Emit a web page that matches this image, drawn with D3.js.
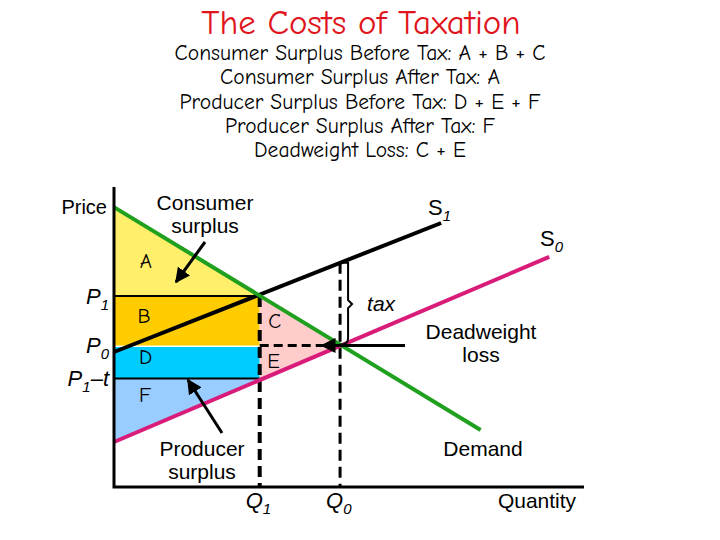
<!DOCTYPE html>
<html>
<head>
<meta charset="utf-8">
<script src="https://cdn.jsdelivr.net/npm/d3@7"></script>
<style>
  body { margin: 0; background: #fff; }
  svg { display: block; }
</style>
</head>
<body>
<div id="chart"></div>
<script>
// curves, as [quantity, price] end points
const demand  = [[0, 9.33], [7.8, 1.9]];
const supply0 = [[0, 1.5], [9.26, 7.67]];
const supply1 = [[0, 4.5], [6.96, 8.8]];

// key quantities and prices
const qLabels = ["Q1", "Q0"];
const qValues = [3.1, 4.81];
const pLabels = ["P1", "P0", "P1–t"];
const pValues = [6.37, 4.72, 3.62];

const subtitleLines = [
  "Consumer Surplus Before Tax: A + B + C",
  "Consumer Surplus After Tax: A",
  "Producer Surplus Before Tax: D + E + F",
  "Producer Surplus After Tax: F",
  "Deadweight Loss: C + E"
];

const W = 720, H = 540;
const comic = "'Comic Sans MS', 'Comic Neue', 'DejaVu Sans', sans-serif";
const arial = "'Liberation Sans', Arial, sans-serif";

const svg = d3.select("#chart").append("svg").attr("width", W).attr("height", H);

const x = d3.scaleLinear().domain([0, 10]).range([114, 584]);
const y = d3.scaleLinear().domain([0, 10]).range([487, 187]);

const lineAt = (seg, q) => {
  const [[q0, p0], [q1, p1]] = seg;
  return p0 + (p1 - p0) * (q - q0) / (q1 - q0);
};

const [Q1, Q0] = qValues;
const [P1, P0, P1t] = pValues;

// arrow marker
svg.append("defs").append("marker")
  .attr("id", "arr").attr("viewBox", "0 0 10 10").attr("refX", 9).attr("refY", 5)
  .attr("markerWidth", 5).attr("markerHeight", 5).attr("orient", "auto")
  .append("path").attr("d", "M0,0 L10,5 L0,10 z").attr("fill", "#000");

// titles
svg.append("text").attr("x", 361).attr("y", 34).attr("text-anchor", "middle")
  .style("font-family", comic).style("font-size", "35px").style("fill", "#E0141C")
  .text("The Costs of Taxation");
svg.selectAll(".sub").data(subtitleLines).enter().append("text").attr("class", "sub")
  .attr("x", 360).attr("y", (d, i) => 60 + i * 24.3).attr("text-anchor", "middle")
  .style("font-family", comic).style("font-size", "21.5px").style("fill", "#000")
  .text(d => d);

const poly = pts => "M" + pts.map(p => x(p[0]) + "," + y(p[1])).join("L") + "Z";

// surplus regions
const s0AtQ1 = lineAt(supply0, Q1);
const regions = [
  { pts: [[0, demand[0][1]], [0, P1], [Q1, P1]], fill: "#FFEF6A" },
  { pts: [[0, P1], [Q1, P1], [Q1, P0], [0, P0]], fill: "#FFCC00" },
  { pts: [[0, P0 - 0.05], [Q1, P0 - 0.05], [Q1, P1t], [0, P1t]], fill: "#00CCFF" },
  { pts: [[0, P1t], [Q1, P1t], [Q1, s0AtQ1], [0, supply0[0][1]]], fill: "#99CCFF" },
  { pts: [[Q1, P1], [Q0, P0], [Q1, P1t]], fill: "#FFCCCC" }
];
svg.selectAll(".region").data(regions).enter().append("path").attr("class", "region")
  .attr("d", d => poly(d.pts)).attr("fill", d => d.fill);

// region letters
const letters = [
  ["A", 0.55, 7.3], ["B", 0.5, 5.48], ["C", 3.28, 5.3],
  ["D", 0.53, 4.1], ["E", 3.26, 3.96], ["F", 0.53, 2.82]
];
svg.selectAll(".letter").data(letters).enter().append("text").attr("class", "letter")
  .attr("x", d => x(d[1])).attr("y", d => y(d[2]))
  .style("font-family", comic).style("font-size", "21px")
  .text(d => d[0]);

// price level lines
[P1, P1t].forEach(p => {
  svg.append("line").attr("x1", x(0)).attr("x2", x(Q1)).attr("y1", y(p)).attr("y2", y(p))
    .attr("stroke", "#000").attr("stroke-width", 2);
});

// dashed guides
svg.append("line").attr("x1", x(Q1)).attr("x2", x(Q1)).attr("y1", y(P1)).attr("y2", y(0))
  .attr("stroke", "#000").attr("stroke-width", 4).attr("stroke-dasharray", "11,6");
const s1AtQ0 = lineAt(supply1, Q0);
svg.append("line").attr("x1", x(Q0)).attr("x2", x(Q0)).attr("y1", y(s1AtQ0)).attr("y2", y(0))
  .attr("stroke", "#000").attr("stroke-width", 3).attr("stroke-dasharray", "11,6");
svg.append("line").attr("x1", x(Q1)).attr("x2", x(Q0)).attr("y1", y(P0)).attr("y2", y(P0))
  .attr("stroke", "#000").attr("stroke-width", 3).attr("stroke-dasharray", "9,5");

// curves
const curve = d3.line().x(d => x(d[0])).y(d => y(d[1]));
svg.append("path").attr("d", curve(supply1)).attr("stroke", "#000").attr("stroke-width", 4).attr("fill", "none");
svg.append("path").attr("d", curve(supply0)).attr("stroke", "#D91C7A").attr("stroke-width", 4).attr("fill", "none");
svg.append("path").attr("d", curve(demand)).attr("stroke", "#1FA01F").attr("stroke-width", 4).attr("fill", "none");

// axes
svg.append("path").attr("d", `M${x(0)},${y(10)}V${y(0)}H${x(10)}`)
  .attr("stroke", "#000").attr("stroke-width", 3).attr("fill", "none");

// tax bracket
const bx = x(Q0), bt = y(s1AtQ0), bb = y(P0), bm = (bt + bb) / 2;
svg.append("path")
  .attr("d", `M${bx},${bt}H${bx + 8}V${bm - 4}L${bx + 12},${bm}L${bx + 8},${bm + 4}V${bb - 7}Q${bx + 8},${bb - 1} ${bx},${bb - 1}`)
  .attr("stroke", "#000").attr("stroke-width", 2).attr("fill", "none");
svg.append("text").attr("x", bx + 27).attr("y", bm + 7)
  .style("font-family", arial).style("font-style", "italic").style("font-size", "21px").text("tax");

// annotation arrows
const arrows = [
  [[205, 242], [176, 282]],
  [[222, 433], [188, 380]],
  [[405, y(P0)], [322, y(P0)]]
];
svg.selectAll(".arrow").data(arrows).enter().append("line").attr("class", "arrow")
  .attr("x1", d => d[0][0]).attr("y1", d => d[0][1]).attr("x2", d => d[1][0]).attr("y2", d => d[1][1])
  .attr("stroke", "#000").attr("stroke-width", 3).attr("marker-end", "url(#arr)");

// labels
const lbl = (tx, ty, lines, size, anchor) => {
  const t = svg.append("text").attr("x", tx).attr("y", ty).attr("text-anchor", anchor || "middle")
    .style("font-family", arial).style("font-size", size + "px");
  lines.forEach((l, i) => t.append("tspan").attr("x", tx).attr("dy", i ? size * 1.1 : 0).text(l));
};
lbl(107, 214, ["Price"], 20, "end");
lbl(205, 210, ["Consumer", "surplus"], 21);
lbl(481, 339, ["Deadweight", "loss"], 21);
lbl(483, 456, ["Demand"], 21);
lbl(202, 456, ["Producer", "surplus"], 21);
lbl(537, 508, ["Quantity"], 21);

// subscripted labels
const subLabel = (tx, ty, base, sub, italic, anchor) => {
  const t = svg.append("text").attr("x", tx).attr("y", ty).attr("text-anchor", anchor || "start")
    .style("font-family", arial).style("font-size", "22px")
    .style("font-style", italic ? "italic" : "normal");
  t.append("tspan").text(base);
  t.append("tspan").attr("dy", 6).style("font-size", "15px").style("font-style", "italic").text(sub);
  return t;
};
subLabel(428, 215, "S", "1", false);
subLabel(540, 246, "S", "0", false);

pLabels.forEach((l, i) => {
  const t = svg.append("text").attr("x", 109).attr("y", y(pValues[i]) + 8).attr("text-anchor", "end")
    .style("font-family", arial).style("font-size", "22px").style("font-style", "italic");
  t.append("tspan").text("P");
  t.append("tspan").attr("dy", 6).style("font-size", "15px").text(l.slice(1, 2));
  if (l.length > 2) t.append("tspan").attr("dy", -6).text(l.slice(2));
});
qLabels.forEach((l, i) => {
  const t = svg.append("text").attr("x", x(qValues[i]) - 14).attr("y", y(0) + 21)
    .style("font-family", arial).style("font-size", "22px").style("font-style", "italic");
  t.append("tspan").text("Q");
  t.append("tspan").attr("dy", 6).style("font-size", "15px").text(l.slice(1));
});
</script>
</body>
</html>
